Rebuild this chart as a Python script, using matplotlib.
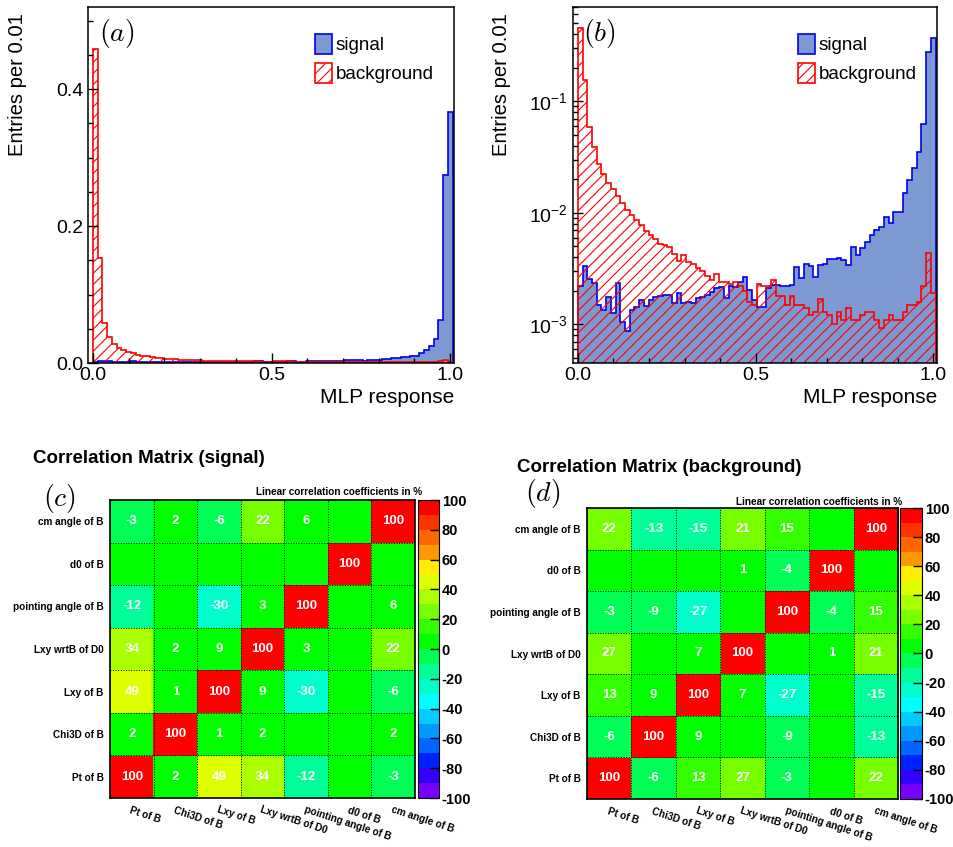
import numpy as np
import matplotlib
matplotlib.use("Agg")
import matplotlib.pyplot as plt
from matplotlib.colors import ListedColormap, Normalize
from matplotlib.ticker import MultipleLocator, FixedLocator, FixedFormatter, LogLocator, NullFormatter

plt.rcParams["font.family"] = ["Liberation Sans", "DejaVu Sans"]
plt.rcParams["mathtext.fontset"] = "custom"
plt.rcParams["mathtext.rm"] = "Liberation Sans"
plt.rcParams["mathtext.it"] = "Liberation Sans:italic"
plt.rcParams["hatch.linewidth"] = 0.8
plt.rcParams["axes.unicode_minus"] = False

# ---------------------------------------------------------------- data
# MLP response histograms (normalised), 76 bins starting at 0
EDGES = np.linspace(0.0, 1.007, 77)

SIGNAL = [0.00219, 0.00331, 0.00254, 0.00233, 0.00148, 0.00134, 0.00175, 0.00126, 0.00233, 0.00104,
          0.00088, 0.00134, 0.00142, 0.00164, 0.00145, 0.00164, 0.00175, 0.00178, 0.00182, 0.00182,
          0.00154, 0.00190, 0.00154, 0.00157, 0.00154, 0.00171, 0.00175, 0.00182, 0.00194, 0.00210,
          0.00215, 0.00171, 0.00219, 0.00215, 0.00238, 0.00264, 0.00202, 0.00164, 0.00142, 0.00142,
          0.00210, 0.00224, 0.00224, 0.00219, 0.00219, 0.00224, 0.00324, 0.00259, 0.00345, 0.00331,
          0.00264, 0.00338, 0.00345, 0.00383, 0.00383, 0.00390, 0.00375, 0.00338, 0.00491, 0.00416,
          0.00480, 0.00543, 0.00628, 0.00697, 0.00741, 0.00912, 0.00806, 0.0101, 0.0101, 0.0150,
          0.0196, 0.0251, 0.0349, 0.0622, 0.275, 0.367]

BACKGROUND = [0.458, 0.154, 0.0588, 0.0385, 0.0272, 0.0221, 0.0184, 0.0163, 0.0141, 0.0122,
              0.0107, 0.0095, 0.0086, 0.0077, 0.0068, 0.0063, 0.0058, 0.0053, 0.0051, 0.0049,
              0.0043, 0.0037, 0.0042, 0.0036, 0.0035, 0.0032, 0.0030, 0.0027, 0.0025, 0.0028,
              0.0024, 0.0024, 0.0023, 0.0024, 0.0022, 0.0020, 0.0016, 0.0015, 0.0023, 0.0022,
              0.0022, 0.0025, 0.0018, 0.0018, 0.0015, 0.0018, 0.0015, 0.0015, 0.0014, 0.0012,
              0.0013, 0.0017, 0.0013, 0.0012, 0.0010, 0.0013, 0.0011, 0.0014, 0.0011, 0.0011,
              0.0012, 0.0013, 0.0013, 0.0011, 0.00092, 0.0011, 0.0012, 0.0011, 0.0011, 0.0013,
              0.0015, 0.0015, 0.0016, 0.0022, 0.0044, 0.0019]

VARS = ["Pt of B", "Chi3D of B", "Lxy of B", "Lxy wrtB of D0",
        "pointing angle of B", "d0 of B", "cm angle of B"]

# rows/cols in VARS order (row 0 = bottom)
CORR_SIG = [[100, 2, 49, 34, -12, 0, -3],
            [2, 100, 1, 2, 0, 0, 2],
            [49, 1, 100, 9, -30, 0, -6],
            [34, 2, 9, 100, 3, 0, 22],
            [-12, 0, -30, 3, 100, 0, 6],
            [0, 0, 0, 0, 0, 100, 0],
            [-3, 2, -6, 22, 6, 0, 100]]

CORR_BKG = [[100, -6, 13, 27, -3, 0, 22],
            [-6, 100, 9, 0, -9, 0, -13],
            [13, 9, 100, 7, -27, 0, -15],
            [27, 0, 7, 100, 0, 1, 21],
            [-3, -9, -27, 0, 100, -4, 15],
            [0, 0, 0, 1, -4, 100, 0],
            [22, -13, -15, 21, 15, 0, 100]]

PALETTE = ["#7700ff", "#3300ff", "#0022ff", "#0066ff", "#0099ff", "#00ccff", "#00ffff",
           "#00ffcc", "#00ff99", "#00ff55", "#00ff00", "#33ff00", "#77ff00", "#aaff00",
           "#ddff00", "#ffee00", "#ff9900", "#ff6600", "#ff3300", "#ff0000"]

SIG_FILL = "#7d99d1"
SIG_LINE = "#0000ee"
BKG_LINE = "#ff0000"

W, H = 954, 847


def ax_px(fig, left, top, right, bottom):
    return fig.add_axes([left / W, 1 - bottom / H, (right - left) / W, (bottom - top) / H])


def style_hist(ax):
    for s in ax.spines.values():
        s.set_linewidth(1.1)
    ax.tick_params(which="both", direction="in", top=False, right=False,
                   labelsize=14, width=1.0)
    ax.tick_params(which="major", length=7)
    ax.tick_params(which="minor", length=3.5)
    ax.tick_params(axis="x", pad=3)
    ax.tick_params(axis="y", pad=3.5)
    ax.set_xlim(-0.014, 1.011)
    ax.xaxis.set_major_locator(FixedLocator([0.0, 0.5, 1.0]))
    ax.xaxis.set_major_formatter(FixedFormatter(["0.0", "0.5", "1.0"]))
    ax.xaxis.set_minor_locator(MultipleLocator(0.1))
    ax.set_xlabel("MLP response", fontsize=15, loc="right")
    ax.xaxis.set_label_coords(1.0, -0.07)
    ax.set_ylabel("Entries per 0.01", fontsize=14.6, loc="top")


def draw_hists(ax, base):
    ax.stairs(SIGNAL, EDGES, baseline=base, fill=True, facecolor=SIG_FILL,
              edgecolor=SIG_LINE, linewidth=1.2, label="signal")
    ax.stairs(BACKGROUND, EDGES, baseline=base, fill=True, facecolor="none",
              edgecolor=BKG_LINE, linewidth=1.2, hatch="///", label="background")


def legend(ax, x0):
    ax.legend(loc="upper left", bbox_to_anchor=(x0, 0.925), frameon=False, fontsize=13.6,
              handlelength=0.9, handleheight=1.3, handletextpad=0.2, labelspacing=0.45,
              borderpad=0, borderaxespad=0)


def corr_panel(fig, box, cbox, data, title, tpos, lab, lpos, linpos):
    ax = ax_px(fig, *box)
    cax = ax_px(fig, *cbox)
    cmap = ListedColormap(PALETTE)
    im = ax.imshow(np.array(data), cmap=cmap, norm=Normalize(-100, 100),
                   origin="lower", aspect="auto", interpolation="nearest")
    n = len(VARS)
    for i, row in enumerate(data):
        for j, v in enumerate(row):
            if v != 0:
                ax.text(j, i, f"{v}", ha="center", va="center", color="white",
                        fontsize=9.5, fontweight="bold")
    ax.set_xticks(range(n))
    ax.set_yticks(range(n))
    ax.set_xticklabels(VARS, rotation=-18, ha="left", va="top", rotation_mode="anchor",
                       fontsize=7.2, fontweight="bold")
    ax.set_yticklabels(VARS, fontsize=7.2, fontweight="bold")
    ax.set_xticks(np.arange(-0.5, n, 1), minor=True)
    ax.set_yticks(np.arange(-0.5, n, 1), minor=True)
    ax.grid(which="minor", color="black", linestyle=":", linewidth=0.7)
    ax.tick_params(which="both", length=0)
    ax.tick_params(axis="x", pad=5)
    ax.tick_params(axis="y", pad=4.5)
    for s in ax.spines.values():
        s.set_linewidth(1.2)

    cb = fig.colorbar(im, cax=cax, ticks=np.arange(-100, 101, 20))
    cb.outline.set_linewidth(0.8)
    cax.tick_params(direction="in", length=6.5, width=1.0, labelsize=10.5, pad=2)
    for t in cax.get_yticklabels():
        t.set_fontweight("bold")

    fig.text(tpos[0] / W, 1 - tpos[1] / H, title, fontsize=13.5, fontweight="bold",
             ha="left", va="center")
    fig.text(linpos[0] / W, 1 - linpos[1] / H, "Linear correlation coefficients in %",
             fontsize=7.2, fontweight="bold", ha="right", va="center")
    fig.text(lpos[0] / W, 1 - lpos[1] / H, lab, fontsize=20, math_fontfamily="cm",
             ha="center", va="center")


fig = plt.figure(figsize=(W / 100, H / 100), dpi=100)
fig.patch.set_facecolor("white")

# ---------------------------------------------------------------- (a) linear
ax_a = ax_px(fig, 88, 7, 454, 363)
draw_hists(ax_a, 0.0)
ax_a.set_ylim(0, 0.52)
style_hist(ax_a)
ax_a.yaxis.set_major_locator(FixedLocator([0.0, 0.2, 0.4]))
ax_a.yaxis.set_major_formatter(FixedFormatter(["0.0", "0.2", "0.4"]))
ax_a.yaxis.set_minor_locator(MultipleLocator(0.05))
ax_a.yaxis.set_label_coords(-0.167, 0.983)
legend(ax_a, 0.62)
fig.text(117 / W, 1 - 33 / H, r"$(a)$", fontsize=20, math_fontfamily="cm",
         ha="center", va="center")

# ---------------------------------------------------------------- (b) log
ax_b = ax_px(fig, 573, 7, 937, 363)
draw_hists(ax_b, 1e-6)
ax_b.set_yscale("log")
ax_b.set_ylim(4.5e-4, 0.70)
style_hist(ax_b)
ax_b.yaxis.set_major_locator(FixedLocator([1e-3, 1e-2, 1e-1]))
ax_b.yaxis.set_major_formatter(FixedFormatter([r"$10^{-3}$", r"$10^{-2}$", r"$10^{-1}$"]))
ax_b.yaxis.set_minor_locator(LogLocator(base=10, subs=np.arange(2, 10)))
ax_b.yaxis.set_minor_formatter(NullFormatter())
ax_b.yaxis.set_label_coords(-0.171, 0.983)
legend(ax_b, 0.618)
fig.text(599 / W, 1 - 34 / H, r"$(b)$", fontsize=20, math_fontfamily="cm",
         ha="center", va="center")

# ---------------------------------------------------------------- (c), (d)
corr_panel(fig, (110, 500, 415, 798), (418, 500, 439, 798), CORR_SIG,
           "Correlation Matrix (signal)", (33, 458), r"$(c)$", (59, 498), (422, 492))
corr_panel(fig, (587, 508, 898, 799), (900, 508, 922, 799), CORR_BKG,
           "Correlation Matrix (background)", (517, 468), r"$(d)$", (543, 493), (902, 502))

fig.savefig("out.png", dpi=100)
